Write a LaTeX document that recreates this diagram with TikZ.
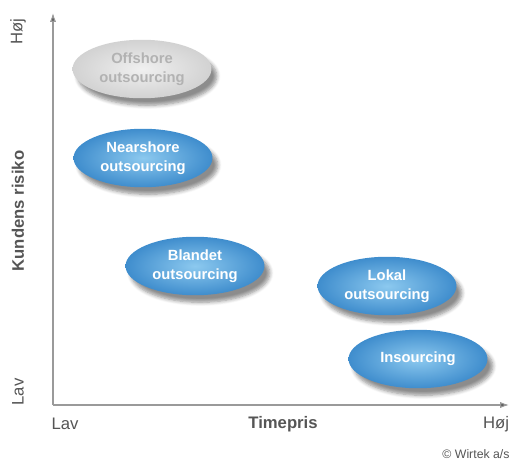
\documentclass[tikz,border=0pt]{standalone}
\usepackage{fontspec}
\setmainfont{Liberation Sans}
\usepackage{tikz}
\usetikzlibrary{shapes.geometric}
\usetikzlibrary{shadows.blur}
\usetikzlibrary{arrows.meta}

\definecolor{axisgray}{HTML}{9A9A9A}
\definecolor{txtgray}{HTML}{555555}
\definecolor{blueedge}{HTML}{3F8DCD}
\definecolor{bluemid}{HTML}{8CC9EF}
\definecolor{grayedge}{HTML}{D2D2D2}
\definecolor{graymid}{HTML}{F0F0F0}

\begin{document}
\begin{tikzpicture}[x=0.02cm,y=-0.02cm]
% Diagram style
\tikzset{
    bubble/.style={ellipse,minimum width=2.78cm,minimum height=1.17cm,inner sep=0pt,
        align=center,text=white,font=\bfseries\fontsize{8.4}{10.8}\selectfont,
        inner color=bluemid,outer color=blueedge,
        blur shadow={shadow xshift=3pt,shadow yshift=-4pt,shadow blur steps=6,shadow opacity=45}},
    greybubble/.style={bubble,inner color=graymid,outer color=grayedge,text=black!30},
    axlabel/.style={text=txtgray,font=\fontsize{9.5}{11}\selectfont},
    axtitle/.style={axlabel,font=\bfseries\fontsize{9.5}{11}\selectfont}
}
\useasboundingbox (0,0) rectangle (511,463);
% Axes
\coordinate (O) at (53,405);
\coordinate (Ytop) at (53,13);
\coordinate (Xend) at (509,405);
\draw[axisgray,line width=0.6pt,-{Latex[length=5pt,width=3.5pt,fill=txtgray]}] (O) -- (Ytop);
\draw[axisgray,line width=0.6pt,-{Latex[length=5pt,width=3.5pt,fill=txtgray]}] (O) -- (Xend);
% Axis labels
\draw (18,32) node[axlabel,rotate=90] (YHoj){Høj};
\draw (18,392) node[axlabel,rotate=90] (YLav){Lav};
\draw (18,211) node[axtitle,rotate=90] (Ytitle){Kundens risiko};
\draw (65,424) node[axlabel] (XLav){Lav};
\draw (283,424) node[axtitle] (Xtitle){Timepris};
\draw (496,424) node[axlabel] (XHoj){Høj};
% Bubbles
\draw (142,69) node[greybubble] (Offsh){Offshore\\outsourcing};
\draw (143,158) node[bubble] (Nearsh){Nearshore\\outsourcing};
\draw (195,266) node[bubble] (Blandet){Blandet\\outsourcing};
\draw (387,286) node[bubble] (Lokal){Lokal\\outsourcing};
\draw (418,359) node[bubble] (Insrc){Insourcing};
% Copyright
\draw (476,454) node[text=txtgray,font=\fontsize{7}{8}\selectfont] (Copy){© Wirtek a/s};
\end{tikzpicture}
\end{document}
